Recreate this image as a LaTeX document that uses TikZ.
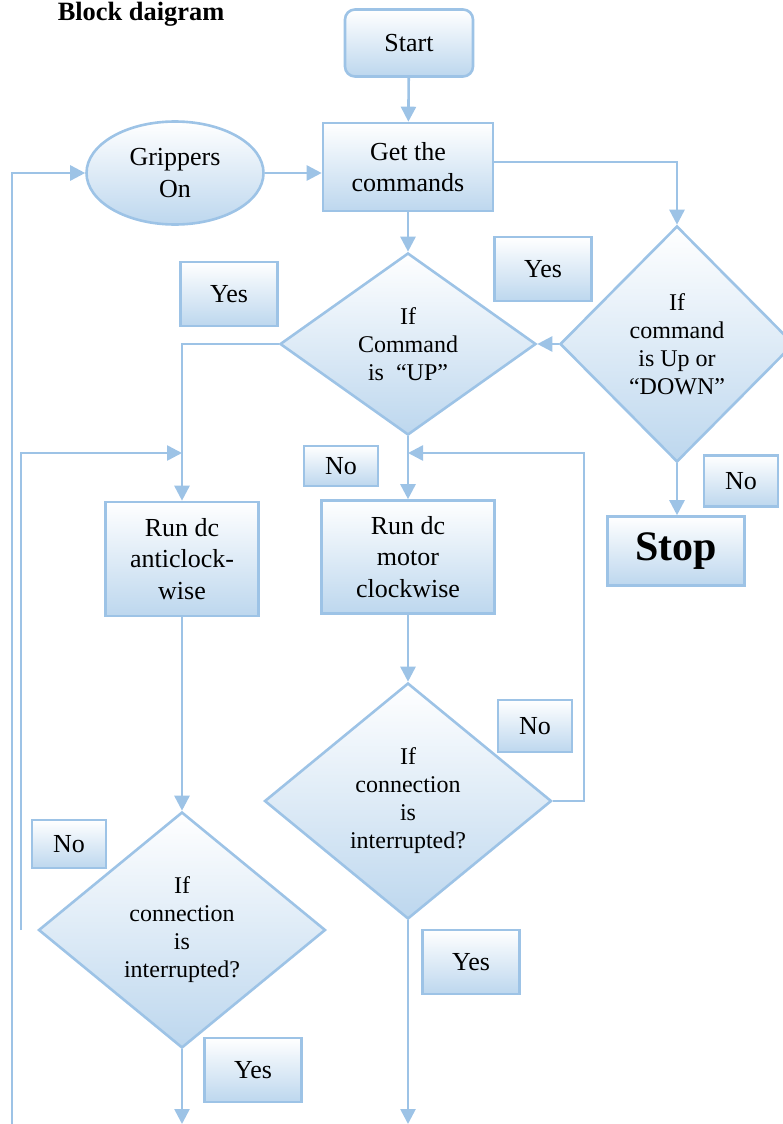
\documentclass[tikz,border=0pt]{standalone}
\usepackage{fontspec}
\setmainfont{Liberation Serif}
\usepackage{tikz}
\usetikzlibrary{arrows.meta,positioning,shapes.geometric}
\definecolor{Edge}{HTML}{9DC3E6}
\definecolor{Fill}{HTML}{BDD7EE}
\definecolor{Ink}{HTML}{000000}

\begin{document}
\begin{tikzpicture}[
  x=0.5pt, y=-0.5pt,
  >=Triangle,
  box/.style={draw=Edge, line width=1.3pt, top color=white, bottom color=Fill, align=center, inner sep=2pt, text=Ink, font=\fontsize{13}{15.7}\selectfont},
  dec/.style={diamond, draw=Edge, line width=1.3pt, top color=white, bottom color=Fill, align=center, inner sep=0pt, text=Ink, font=\fontsize{12}{14}\selectfont},
  tag/.style={box, minimum width=48.5pt, minimum height=32pt},
  notag/.style={box, minimum width=37pt, minimum height=24pt},
  arr/.style={-{Triangle[length=7.5pt,width=7.5pt]}, line width=1.3pt, draw=Edge},
]
\useasboundingbox (0,0) rectangle (782,1124);
\node[font=\fontsize{13.2}{15}\selectfont\bfseries] (title) at (141,14) {Block daigram};
\node[box, rounded corners=5pt, minimum width=64pt, minimum height=33.5pt] (start) at (409,43) {Start};
\node[box, minimum width=85pt, minimum height=44pt] (get) at (408,167) {Get the\\commands};
\node[box, ellipse, minimum width=88.5pt, minimum height=51.5pt] (grip) at (175,173) {Grippers\\On};
\node[dec, aspect=1.4, minimum width=128pt, minimum height=91pt] (dup) at (408,344) {If\\Command\\is~~``UP''};
\node[dec, minimum width=117pt, minimum height=118pt] (dud) at (677,344) {If\\command\\is Up or\\``DOWN''};
\node[box, minimum width=76.5pt, minimum height=57pt] (ccw) at (182,559) {Run dc\\anticlock-\\wise};
\node[box, minimum width=86.5pt, minimum height=56.5pt] (cw) at (408,557) {Run dc\\motor\\clockwise};
\node[box, minimum width=68.5pt, minimum height=34.5pt, font=\fontsize{21}{24}\selectfont\bfseries] (stop) at (676,551) {Stop};
\node[dec, aspect=1.2, minimum width=143.5pt, minimum height=118pt] (cutr) at (408,801) {If\\connection\\is\\interrupted?};
\node[dec, aspect=1.2, minimum width=143.5pt, minimum height=118pt] (cutl) at (182,930) {If\\connection\\is\\interrupted?};
% yes / no tags
\node[tag] (y1) at (229,294) {Yes};
\node[tag] (y2) at (543,269) {Yes};
\node[tag] (y3) at (471,962) {Yes};
\node[tag] (y4) at (253,1070) {Yes};
\node[notag, minimum height=20pt] (n1) at (341,466) {No};
\node[notag, minimum height=25.5pt] (n2) at (741,481) {No};
\node[notag, minimum height=26pt] (n3) at (535,726) {No};
\node[notag] (n4) at (69,844) {No};
% loose ends
\coordinate (rj) at (584,453);
\coordinate (lt) at (21,453);
\coordinate (lb) at (21,930);
\coordinate (ob) at (12,1124);
\coordinate (e1) at (408,1124);
\coordinate (e2) at (182,1124);
% connectors
\draw[arr] (start) -- (get);
\draw[arr] (get) -- (dup);
\draw[arr] (grip.east) -- (grip.east -| get.west);
\draw[arr] ([yshift=2.5pt]get.east) -| (dud.north);
\draw[arr] (dud.west) -- (dup.east);
\draw[arr] (dud.south) -- (dud.south |- stop.north);
\draw[arr] (dup.west) -| (ccw.north);
\draw[arr] (dup.south) -- (cw.north);
\draw[arr] (cw.south) -- (cutr.north);
\draw[arr] (ccw.south) -- (cutl.north);
\draw[arr] (cutr.east) -| (rj) -- (rj -| cw.north);
\draw[arr] (lb) -- (lt) -- (lt -| ccw.north);
\draw[arr] (ob) |- (grip.west);
\draw[arr] (cutr.south) -- (e1);
\draw[arr] (cutl.south) -- (e2);
\end{tikzpicture}
\end{document}
